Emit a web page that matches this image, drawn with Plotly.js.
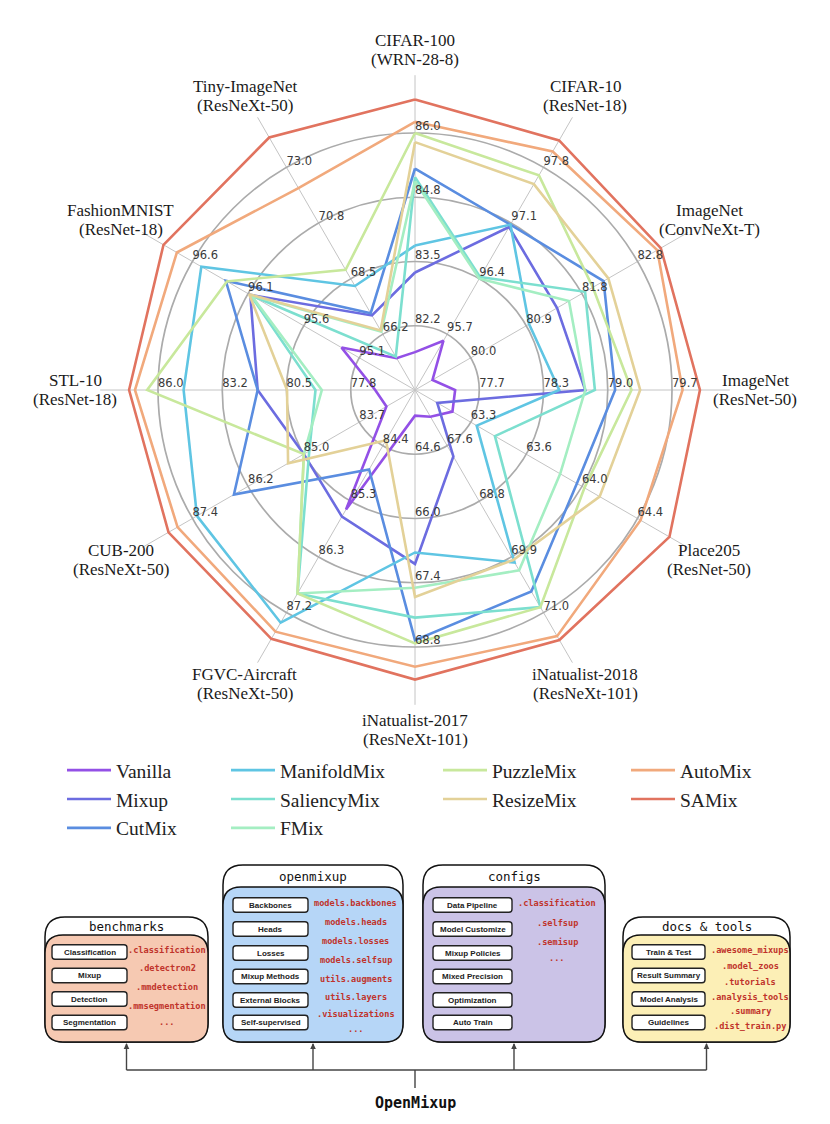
<!DOCTYPE html>
<html><head><meta charset="utf-8">
<script src="https://cdn.plot.ly/plotly-3.0.1.min.js"></script>
<style>html,body{margin:0;padding:0;background:#fff}#chart{width:830px;height:1124px}</style>
</head><body><div id="chart"></div>
<script>
// ---------------- data ----------------
const axisNames  = ['CIFAR-100','CIFAR-10','ImageNet','ImageNet','Place205','iNatualist-2018','iNatualist-2017','FGVC-Aircraft','CUB-200','STL-10','FashionMNIST','Tiny-ImageNet'];
const axisModels = ['(WRN-28-8)','(ResNet-18)','(ConvNeXt-T)','(ResNet-50)','(ResNet-50)','(ResNeXt-101)','(ResNeXt-101)','(ResNeXt-50)','(ResNeXt-50)','(ResNet-18)','(ResNet-18)','(ResNeXt-50)'];
const tickLabels = [
  [82.2,83.5,84.8,86.0],[95.7,96.4,97.1,97.8],[80.0,80.9,81.8,82.8],[77.7,78.3,79.0,79.7],
  [63.3,63.6,64.0,64.4],[67.6,68.8,69.9,71.0],[64.6,66.0,67.4,68.8],[84.4,85.3,86.3,87.2],
  [83.7,85.0,86.2,87.4],[77.8,80.5,83.2,86.0],[95.1,95.6,96.1,96.6],[66.2,68.5,70.8,73.0]
];
const methods = ['Vanilla','Mixup','CutMix','ManifoldMix','SaliencyMix','FMix','PuzzleMix','ResizeMix','AutoMix','SAMix'];
const vanilla     = [81.68,95.62,79.36,77.45,63.18,67.01,63.76,85.47,83.10,76.76,95.26,65.23];
const mixup       = [83.25,97.05,81.45,78.80,63.08,67.82,66.99,85.59,84.93,81.76,96.08,66.97];
const cutmix      = [85.30,97.08,82.23,79.11,64.00,70.57,68.65,84.80,86.48,81.76,96.30,67.06];
const manifoldmix = [83.78,97.08,80.98,78.53,63.34,69.98,66.74,87.37,87.30,84.91,96.52,68.17];
const saliencymix = [85.13,96.42,81.92,78.90,63.46,70.89,68.16,86.88,84.81,79.30,96.08,65.29];
const fmix        = [85.05,96.40,81.65,78.80,63.89,70.14,67.51,86.88,84.93,79.03,96.07,66.31];
const puzzlemix   = [86.00,97.70,82.05,79.28,64.05,70.89,68.72,86.88,84.93,86.46,96.29,68.83];
const resizemix   = [85.82,97.59,82.31,79.37,64.15,69.93,67.71,84.31,85.28,80.51,96.09,66.36];
const automix     = [86.22,98.00,83.13,79.81,64.42,71.48,69.23,87.52,87.73,86.98,96.74,72.16];
const samix       = [86.66,98.14,83.19,79.99,64.61,71.56,69.51,87.64,87.93,87.23,96.86,74.22];
const seriesValues = [vanilla,mixup,cutmix,manifoldmix,saliencymix,fmix,puzzlemix,resizemix,automix,samix];

// diagram content
const boxes = [
  {title:'benchmarks', buttons:['Classification','Mixup','Detection','Segmentation'],
   mods:['.classification','.detectron2','.mmdetection','.mmsegmentation','...']},
  {title:'openmixup', buttons:['Backbones','Heads','Losses','Mixup Methods','External Blocks','Self-supervised'],
   mods:['models.backbones','models.heads','models.losses','models.selfsup','utils.augments','utils.layers','.visualizations','...']},
  {title:'configs', buttons:['Data Pipeline','Model Customize','Mixup Policies','Mixed Precision','Optimization','Auto Train'],
   mods:['.classification','.selfsup','.semisup','...']},
  {title:'docs & tools', buttons:['Train & Test','Result Summary','Model Analysis','Guidelines'],
   mods:['.awesome_mixups','.model_zoos','.tutorials','.analysis_tools','.summary','.dist_train.py']}
];
const rootName = 'OpenMixup';

// ---------------- styles / layout geometry ----------------
const W = 830, H = 1124;
const CX = 415, CY = 390, UNIT = 64.25, RMAX = 4.9;
const colors = ['#9350E6','#6C6CE0','#5A8DE0','#5FC5E3','#7CDFCF','#A4EEC2','#C8E89C','#E3D198','#F1A97C','#E1735F'];
const legendOf = ['legend','legend','legend','legend2','legend2','legend2','legend3','legend3','legend4','legend4'];
const px = x => x / W, py = y => 1 - y / H;
const thetas = axisNames.map((_, i) => i * 30);

function toR(vals) {
  return vals.map((v, i) => { const t = tickLabels[i]; return 1 + (v - t[0]) / ((t[3] - t[0]) / 3); });
}

const traces = [];
seriesValues.forEach((vals, k) => {
  const r = toR(vals);
  traces.push({
    type: 'scatterpolar', mode: 'lines', name: methods[k],
    r: r.concat([r[0]]), theta: thetas.concat([thetas[0]]),
    line: {color: colors[k], width: 2.6}, legend: legendOf[k], legendgroup: methods[k],
    hoverinfo: 'name', cliponaxis: false
  });
});
// per-axis tick labels
const tr = [], tt = [], tx = [];
tickLabels.forEach((row, i) => row.forEach((v, j) => { tr.push(j + 1); tt.push(thetas[i]); tx.push(v.toFixed(1)); }));
traces.push({type:'scatterpolar', mode:'text', r: tr, theta: tt, text: tx, textposition: 'top right',
  textfont: {family: 'DejaVu Sans', size: 11.5, color: '#3a3a3a'}, showlegend: false, hoverinfo: 'skip', cliponaxis: false});

// category labels
const annotations = [];
const LABR = 340;
axisNames.forEach((n, i) => {
  const a = thetas[i] * Math.PI / 180;
  const x = CX + LABR * Math.sin(a), y = CY - LABR * Math.cos(a);
  [[n, y - 9.5], [axisModels[i], y + 9.5]].forEach(([s, yy]) => annotations.push({
    xref: 'paper', yref: 'paper', x: px(x), y: py(yy), text: s, showarrow: false,
    xanchor: 'center', yanchor: 'middle', font: {family: 'Liberation Serif', size: 17, color: '#1a1a1a'}
  }));
});

// ---------------- diagram ----------------
const shapes = [];
function rr(x0, y0, x1, y1, r) {
  const P = (x, y) => px(x).toFixed(5) + ',' + py(y).toFixed(5);
  return 'M' + P(x0 + r, y0) + ' L' + P(x1 - r, y0) + ' Q' + P(x1, y0) + ' ' + P(x1, y0 + r) +
    ' L' + P(x1, y1 - r) + ' Q' + P(x1, y1) + ' ' + P(x1 - r, y1) +
    ' L' + P(x0 + r, y1) + ' Q' + P(x0, y1) + ' ' + P(x0, y1 - r) +
    ' L' + P(x0, y0 + r) + ' Q' + P(x0, y0) + ' ' + P(x0 + r, y0) + ' Z';
}
const geo = [
  {x0:45,  x1:208, top:917, inner:935, fill:'#F6C9B2', bx0:52,  bx1:127, btnY:[952,975.5,999,1022.5], modX:167, modY:[950,968,987,1006,1022]},
  {x0:223, x1:403, top:865, inner:887, fill:'#B6D6F7', bx0:233, bx1:308, btnY:[905,929,953,976.5,1000,1022.5], modX:355.5, modY:[903,922,941,960,979,997,1014,1029]},
  {x0:423, x1:605, top:865, inner:887, fill:'#CBC3E7', bx0:433, bx1:512, btnY:[905,929,953,976.5,1000,1022.5], modX:557, modY:[903,923,942,958]},
  {x0:623, x1:790, top:917, inner:935, fill:'#FCEFB6', bx0:632, bx1:705, btnY:[952,975.5,999,1022.5], modX:750, modY:[950,966,982,997,1011,1026]}
];
const BOT = 1042;
boxes.forEach((b, k) => {
  const g = geo[k];
  shapes.push({type:'path', xref:'paper', yref:'paper', path: rr(g.x0, g.top, g.x1, BOT, 20), fillcolor:'#ffffff', line:{color:'#111', width:1.5}});
  shapes.push({type:'path', xref:'paper', yref:'paper', path: rr(g.x0, g.inner, g.x1, BOT, 18), fillcolor:g.fill, line:{color:'#111', width:1.5}});
  annotations.push({xref:'paper', yref:'paper', x: px((g.x0 + g.x1) / 2), y: py((g.top + g.inner) / 2 + 0.5), text: b.title, showarrow:false,
    xanchor:'center', yanchor:'middle', font:{family:'DejaVu Sans Mono', size:12.5, color:'#111'}});
  b.buttons.forEach((s, j) => {
    const yc = g.btnY[j];
    shapes.push({type:'path', xref:'paper', yref:'paper', path: rr(g.bx0, yc - 7.2, g.bx1, yc + 7.2, 3), fillcolor:'#ffffff', line:{color:'#222', width:1.4}});
    annotations.push({xref:'paper', yref:'paper', x: px((g.bx0 + g.bx1) / 2), y: py(yc), text: '<b>' + s + '</b>', showarrow:false,
      xanchor:'center', yanchor:'middle', font:{family:'Liberation Sans', size:8, color:'#222'}});
  });
  b.mods.forEach((s, j) => {
    annotations.push({xref:'paper', yref:'paper', x: px(g.modX), y: py(g.modY[j]), text: '<b>' + s + '</b>', showarrow:false,
      xanchor:'center', yanchor:'middle', font:{family:'DejaVu Sans Mono', size:8.6, color:'#C0332B'}});
  });
});
// connectors
const conX = geo.map(g => (g.x0 + g.x1) / 2);
const line = (x0, y0, x1, y1) => ({type:'line', xref:'paper', yref:'paper', x0:px(x0), y0:py(y0), x1:px(x1), y1:py(y1), line:{color:'#444', width:1.4}});
conX.forEach(x => {
  shapes.push(line(x, 1044, x, 1070));
  const P = (a, b) => px(a).toFixed(5) + ',' + py(b).toFixed(5);
  shapes.push({type:'path', xref:'paper', yref:'paper', path:'M' + P(x - 2.8, 1049) + ' L' + P(x, 1043) + ' L' + P(x + 2.8, 1049) + ' Z', fillcolor:'#444', line:{width:0}});
});
shapes.push(line(conX[0], 1070, conX[3], 1070));
shapes.push(line(415, 1070, 415, 1088));
annotations.push({xref:'paper', yref:'paper', x: px(415), y: py(1103), text: '<b>' + rootName + '</b>', showarrow:false,
  xanchor:'center', yanchor:'middle', font:{family:'DejaVu Sans Mono', size:15, color:'#111'}});

// ---------------- layout ----------------
const legendBase = (x) => ({x: px(x), y: py(751), xanchor:'left', yanchor:'top', orientation:'v',
  bgcolor:'rgba(0,0,0,0)', borderwidth:0, itemwidth:44, tracegroupgap:0.5,
  font:{family:'Liberation Serif', size:19.5, color:'#222'}});
const layout = {
  width: W, height: H, margin: {l:0, r:0, t:0, b:0}, paper_bgcolor:'#ffffff', plot_bgcolor:'#ffffff',
  showlegend: true,
  legend: legendBase(62), legend2: legendBase(226), legend3: legendBase(438), legend4: legendBase(626),
  polar: {
    domain: {x: [px(CX - RMAX * UNIT), px(CX + RMAX * UNIT)], y: [py(CY + RMAX * UNIT), py(CY - RMAX * UNIT)]},
    bgcolor: 'rgba(0,0,0,0)',
    radialaxis: {range: [0, RMAX], tickvals: [1, 2, 3, 4], showticklabels: false, ticks: '', showline: false,
      gridcolor: '#ababab', gridwidth: 1.7},
    angularaxis: {rotation: 90, direction: 'clockwise', thetaunit: 'degrees', tickvals: thetas, showticklabels: false,
      ticks: '', showline: false, gridcolor: '#c4c4c4', gridwidth: 1}
  },
  shapes: shapes, annotations: annotations
};
Plotly.newPlot('chart', traces, layout, {displayModeBar: false, staticPlot: true});
</script></body></html>
